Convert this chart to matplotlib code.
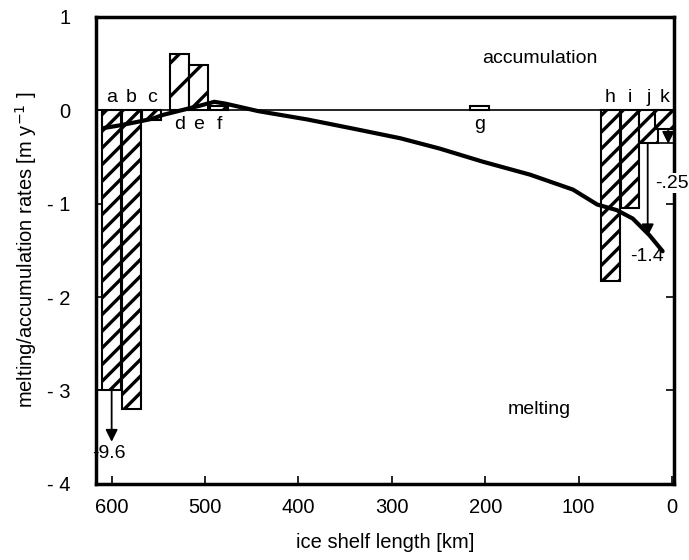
import numpy as np
import matplotlib
matplotlib.use("Agg")
import matplotlib.pyplot as plt

plt.rcParams['font.family'] = ['Liberation Sans', 'DejaVu Sans']
plt.rcParams['hatch.linewidth'] = 2.4

# bars: melting (negative) and accumulation (positive)
melt_labels = ['a', 'b', 'c', 'h', 'i', 'j', 'k']
melt_pos = [600, 579, 557, 66, 45, 25, 8]
melt_vals = [-3.0, -3.2, -0.1, -1.83, -1.05, -0.35, -0.2]

acc_labels = ['d', 'e', 'f', 'g']
acc_pos = [527, 507, 485, 206]
acc_vals = [0.6, 0.48, 0.04, 0.05]

bar_width = 20

# modelled melting/accumulation curve
curve_x = [608, 590, 570, 556, 545, 525, 505, 490, 478, 443, 390, 340, 291,
           249, 203, 152, 106, 80, 59, 42, 24, 10]
curve_y = [-0.19, -0.16, -0.12, -0.09, -0.05, 0.0, 0.05, 0.09, 0.07, -0.01,
           -0.1, -0.2, -0.3, -0.41, -0.55, -0.69, -0.85, -1.01, -1.07, -1.16,
           -1.34, -1.51]

# truncated bars: (x, bar bottom, arrow end)
trunc = [(600, -3.0, -3.55), (26, -0.35, -1.35), (4, -0.2, -0.36)]

fig = plt.figure(figsize=(6.89, 5.6), dpi=100)
ax = fig.add_axes([0.139, 0.136, 0.839, 0.834])

ax.bar(melt_pos, melt_vals, width=bar_width, color='white', edgecolor='black',
       linewidth=1.5, hatch='//', zorder=2)
ax.bar(acc_pos, acc_vals, width=bar_width, color='white', edgecolor='black',
       linewidth=1.5, hatch='/', zorder=2)

ax.axhline(0, color='black', linewidth=1.2, zorder=3)
ax.plot(curve_x, curve_y, color='black', linewidth=3, zorder=4, solid_capstyle='round')

for lab, x in zip(melt_labels, melt_pos):
    ax.text(x, 0.04, lab, ha='center', va='bottom', fontsize=14)
for lab, x in zip(acc_labels, acc_pos):
    ax.text(x, -0.06, lab, ha='center', va='top', fontsize=14)

# arrows for values off the scale
ax.hlines(-3.0, 617, 608, color='black', linewidth=1.2)
ax.hlines(-0.35, 16, -2, color='black', linewidth=1.2)
for x, y0, y1 in trunc:
    ax.annotate('', xy=(x, y1), xytext=(x, y0),
                arrowprops=dict(arrowstyle='-|>', color='black', lw=1.3,
                                mutation_scale=18, shrinkA=0, shrinkB=0))
ax.text(603, -3.68, '-9.6', ha='center', va='center', fontsize=14)
ax.text(27, -1.57, '-1.4', ha='center', va='center', fontsize=14)
ax.text(-18, -0.78, '-.25', ha='right', va='center', fontsize=14,
        clip_on=False, zorder=6, bbox=dict(facecolor='white', edgecolor='none', pad=1))

ax.text(142, 0.55, 'accumulation', ha='center', va='center', fontsize=14)
ax.text(142, -3.2, 'melting', ha='center', va='center', fontsize=14)

ax.set_xlim(617, -2)
ax.set_ylim(-3.97, 1.0)
ax.set_xticks([600, 500, 400, 300, 200, 100, 0])
ax.set_yticks([-4, -3, -2, -1, 0, 1])
ax.set_yticklabels(['- 4', '- 3', '- 2', '- 1', '0', '1'])
ax.tick_params(direction='in', length=6, width=1.2, labelsize=14.5, pad=10,
               right=True, top=False)
ax.tick_params(axis='y', pad=18)
for s in ax.spines.values():
    s.set_linewidth(2.5)

ax.set_xlabel('ice shelf length [km]', fontsize=14.5, labelpad=12)
ax.set_ylabel('melting/accumulation rates [m y$^{-1}$ ]', fontsize=14.5, labelpad=6)

fig.savefig('out.png', dpi=100)
